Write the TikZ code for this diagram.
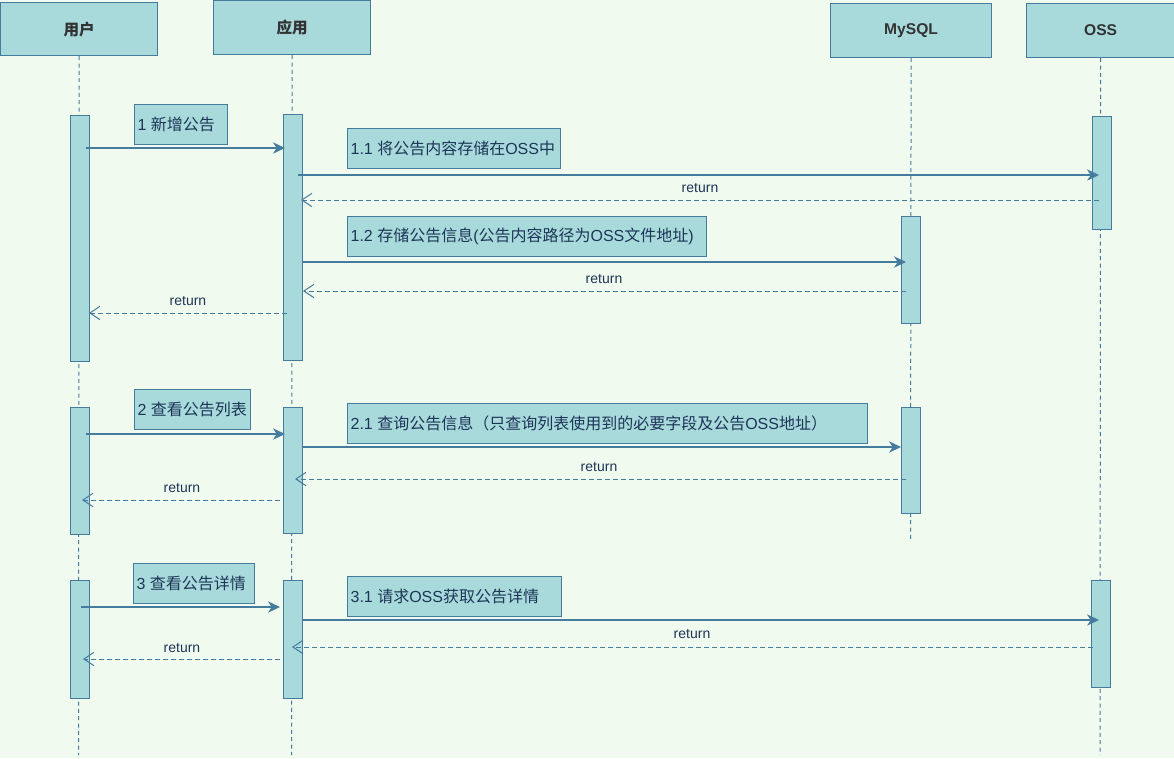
\documentclass[tikz,border=0pt]{standalone}
\usepackage{fontspec}
\setmainfont{Liberation Sans}
\newfontfamily\cjk{Noto Sans CJK SC}
\newcommand\zh[1]{{\cjk #1}}
\usetikzlibrary{arrows.meta}
\definecolor{bgc}{HTML}{F1FAEE}
\definecolor{fillc}{HTML}{A8DADC}
\definecolor{strokec}{HTML}{457B9D}
\definecolor{txtc}{HTML}{1D3557}
\definecolor{headc}{HTML}{333333}
\begin{document}
\begin{tikzpicture}[x=0.75pt,y=-0.75pt,
  head/.style={draw=strokec, fill=fillc, line width=0.9pt, anchor=north west, inner sep=0pt,
    font=\fontsize{11.7}{13}\selectfont\bfseries, text=headc},
  bar/.style={draw=strokec, fill=fillc, line width=0.9pt, anchor=north west, inner sep=0pt,
    minimum width=19*0.75pt},
  msgbox/.style={draw=strokec, fill=fillc, line width=0.9pt, anchor=north west, inner sep=0pt,
    minimum height=40*0.75pt},
  msgtxt/.style={anchor=west, inner sep=0pt, text=txtc, font=\fontsize{12}{14}\selectfont},
  rettxt/.style={inner sep=0pt, text=txtc, font=\fontsize{10.5}{12}\selectfont},
  life/.style={draw=strokec, line width=0.75pt, dash pattern=on 3pt off 2.5pt},
  call/.style={draw=strokec, line width=0.9pt, -{Stealth[length=9pt,width=8.5pt,inset=2.8pt]}},
  back/.style={draw=strokec, line width=0.75pt, dash pattern=on 3.5pt off 2.5pt,
    -{Straight Barb[length=7.5pt,width=10pt,line width=0.75pt]}}
]
\fill[bgc] (0,0) rectangle (1174,758);
\useasboundingbox (0,0) rectangle (1174,758);

% headers
\node[head, minimum width=157*0.75pt, minimum height=53*0.75pt] (hu) at (0,2) {\zh{用户}};
\node[head, minimum width=157*0.75pt, minimum height=54*0.75pt] (ha) at (213,0) {\zh{应用}};
\node[head, minimum width=161*0.75pt, minimum height=54*0.75pt] (hm) at (830,3) {MySQL};
\node[head, minimum width=148*0.75pt, minimum height=54*0.75pt] (ho) at (1026,3) {OSS};

% lifelines
\coordinate (eu) at (78.5,755);
\coordinate (ea) at (291.5,755);
\coordinate (em) at (910.5,540);
\coordinate (eo) at (1100,755);
\draw[life] (hu.south) -- (eu);
\draw[life] (ha.south) -- (ea);
\draw[life] (hm.south) -- (em);
\draw[life] (ho.south) -- (eo);

% activation bars
\node[bar, minimum height=246*0.75pt] (u1) at (70,115) {};
\node[bar, minimum height=127*0.75pt] (u2) at (70,407) {};
\node[bar, minimum height=118*0.75pt] (u3) at (70,580) {};
\node[bar, minimum height=246*0.75pt] (a1) at (283,114) {};
\node[bar, minimum height=126*0.75pt] (a2) at (283,407) {};
\node[bar, minimum height=118*0.75pt] (a3) at (283,580) {};
\node[bar, minimum height=107*0.75pt] (m1) at (901,216) {};
\node[bar, minimum height=106*0.75pt] (m2) at (901,407) {};
\node[bar, minimum height=113*0.75pt] (o1) at (1092,116) {};
\node[bar, minimum height=107*0.75pt] (o2) at (1091,580) {};

% message label boxes
\node[msgbox, minimum width=93*0.75pt] (b1) at (134,104) {};
\node[msgtxt] (t1) at ([xshift=2.5pt]b1.west) {1 \zh{新增公告}};
\node[msgbox, minimum width=213*0.75pt] (b11) at (347,128) {};
\node[msgtxt] (t11) at ([xshift=2.5pt]b11.west) {1.1 \zh{将公告内容存储在}OSS\zh{中}};
\node[msgbox, minimum width=359*0.75pt] (b12) at (347,216) {};
\node[msgtxt] (t12) at ([xshift=2.5pt]b12.west) {1.2 \zh{存储公告信息}(\zh{公告内容路径为}OSS\zh{文件地址})};
\node[msgbox, minimum width=116*0.75pt] (b2) at (134,389) {};
\node[msgtxt] (t2) at ([xshift=2.5pt]b2.west) {2 \zh{查看公告列表}};
\node[msgbox, minimum width=520*0.75pt] (b21) at (347,403) {};
\node[msgtxt] (t21) at ([xshift=2.5pt]b21.west) {2.1 \zh{查询公告信息（只查询列表使用到的必要字段及公告}OSS\zh{地址）}};
\node[msgbox, minimum width=121*0.75pt] (b3) at (133,563) {};
\node[msgtxt] (t3) at ([xshift=2.5pt]b3.west) {3 \zh{查看公告详情}};
\node[msgbox, minimum width=214*0.75pt] (b31) at (347,576) {};
\node[msgtxt] (t31) at ([xshift=2.5pt]b31.west) {3.1 \zh{请求}OSS\zh{获取公告详情}};

% message endpoints
\coordinate (m1s) at (86,148);   \coordinate (m1e) at (285,148);
\coordinate (m11s) at (298,175); \coordinate (m11e) at (1099,175);
\coordinate (r11s) at (1099,200); \coordinate (r11e) at (301,200);
\coordinate (m12s) at (302,262); \coordinate (m12e) at (906,262);
\coordinate (r12s) at (906,291); \coordinate (r12e) at (303,291);
\coordinate (r1s) at (287,313);  \coordinate (r1e) at (89,313);
\coordinate (m2s) at (86,434);   \coordinate (m2e) at (285,434);
\coordinate (m21s) at (302,447); \coordinate (m21e) at (901,447);
\coordinate (r21s) at (906,479); \coordinate (r21e) at (295,479);
\coordinate (r2s) at (280,500);  \coordinate (r2e) at (82,500);
\coordinate (m3s) at (81,607);   \coordinate (m3e) at (280,607);
\coordinate (m31s) at (302,620); \coordinate (m31e) at (1099,620);
\coordinate (r31s) at (1093,647); \coordinate (r31e) at (292,647);
\coordinate (r3s) at (280,659);  \coordinate (r3e) at (83,659);

% messages
\draw[call] (m1s) -- (m1e);
\draw[call] (m11s) -- (m11e);
\draw[back] (r11s) -- (r11e);
\draw[call] (m12s) -- (m12e);
\draw[back] (r12s) -- (r12e);
\draw[back] (r1s) -- (r1e);
\draw[call] (m2s) -- (m2e);
\draw[call] (m21s) -- (m21e);
\draw[back] (r21s) -- (r21e);
\draw[back] (r2s) -- (r2e);
\draw[call] (m3s) -- (m3e);
\draw[call] (m31s) -- (m31e);
\draw[back] (r31s) -- (r31e);
\draw[back] (r3s) -- (r3e);

% return labels
\node[rettxt] (l11) at (700,188) {return};
\node[rettxt] (l12) at (604,279) {return};
\node[rettxt] (l1) at (188,301) {return};
\node[rettxt] (l21) at (599,467) {return};
\node[rettxt] (l2) at (182,488) {return};
\node[rettxt] (l31) at (692,634) {return};
\node[rettxt] (l3) at (182,648) {return};
\end{tikzpicture}
\end{document}
